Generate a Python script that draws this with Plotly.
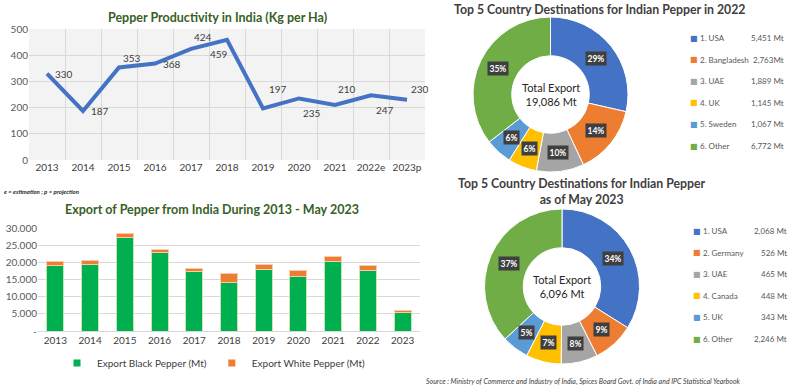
import math
import plotly.graph_objects as go

# ---------------- data ----------------
prod_years = ["2013", "2014", "2015", "2016", "2017", "2018", "2019", "2020", "2021", "2022e", "2023p"]
productivity = [330, 187, 353, 368, 424, 459, 197, 235, 210, 247, 230]

export_years = ["2013", "2014", "2015", "2016", "2017", "2018", "2019", "2020", "2021", "2022", "2023"]
black_pepper = [19100, 19400, 27100, 22800, 17200, 14000, 18000, 16000, 20100, 17500, 5500]
white_pepper = [1000, 1000, 1400, 1000, 1050, 2700, 1500, 1500, 1700, 1600, 500]
export_ticks = [0, 5000, 10000, 15000, 20000, 25000, 30000]
export_ticktext = ["-", "5.000", "10.000", "15.000", "20.000", "25.000", "30.000"]

dest2022_labels = ["1. USA", "2. Bangladesh", "3. UAE", "4. UK", "5. Sweden", "6. Other"]
dest2022_values = [5451, 2763, 1889, 1145, 1067, 6772]
dest2022_valtext = ["5,451 Mt", "2,763Mt", "1,889 Mt", "1,145 Mt", "1,067 Mt", "6,772 Mt"]
dest2022_total = "19,086 Mt"

dest2023_labels = ["1. USA", "2. Germany", "3. UAE", "4. Canada", "5. UK", "6. Other"]
dest2023_values = [2068, 526, 465, 448, 343, 2246]
dest2023_valtext = ["2,068 Mt", "526 Mt", "465 Mt", "448 Mt", "343 Mt", "2,246 Mt"]
dest2023_pct = ["34%", "9%", "8%", "7%", "5%", "37%"]
dest2023_total = "6,096 Mt"

# ---------------- styles ----------------
W, H = 800, 386
FONT = "Lato, 'Open Sans', sans-serif"
GREEN_TITLE = "#375F27"
DARK = "#404040"
GREY = "#595959"
BLACK_COL = "#00B050"
WHITE_COL = "#ED7D31"
pie_colors = ["#4472C4", "#ED7D31", "#A5A5A5", "#FFC000", "#5B9BD5", "#70AD47"]
# label offsets (px) for the productivity line labels
lab_dx = [17, 17, 13, 17, 12, -8, 15, 13, 12, 14, 13]
lab_dy = [0, 0, 10, 0, 12, -14, 19, -15, 16, -15, 11]


def px(x):
    return x / W


def py(y):
    return 1 - y / H


def note(x, y, text, size, color=DARK, xanchor="center", family=FONT, **kw):
    d = dict(x=px(x), y=py(y), xref="paper", yref="paper", text=text, showarrow=False,
             xanchor=xanchor, yanchor="middle", font=dict(size=size, color=color, family=family))
    d.update(kw)
    return d


fig = go.Figure()

# ---- productivity line ----
fig.add_trace(go.Scatter(
    x=prod_years, y=productivity, mode="lines",
    line=dict(color="#4472C4", width=4), xaxis="x", yaxis="y",
    showlegend=False, hoverinfo="x+y"))

annotations = []
for i, (v, dx, dy) in enumerate(zip(productivity, lab_dx, lab_dy)):
    annotations.append(dict(x=i, y=v, xref="x", yref="y", text=str(v), showarrow=False,
                            xanchor="center", yanchor="middle",
                            xshift=dx, yshift=dy, font=dict(size=10, color=DARK, family=FONT)))

# ---- export bars ----
fig.add_trace(go.Bar(
    x=export_years, y=black_pepper, name="Export Black Pepper (Mt)", showlegend=False,
    marker=dict(color=BLACK_COL, line=dict(color="#C9E6B0", width=1)),
    width=0.49, xaxis="x2", yaxis="y2"))
fig.add_trace(go.Bar(
    x=export_years, y=white_pepper, name="Export White Pepper (Mt)", showlegend=False,
    marker=dict(color=WHITE_COL, line=dict(color="#F8CBAD", width=1)),
    width=0.49, xaxis="x2", yaxis="y2"))
# legend entries (small square keys like the original)
for nm, col in [("Export Black Pepper (Mt)", BLACK_COL), ("Export White Pepper (Mt)", WHITE_COL)]:
    fig.add_trace(go.Scatter(x=[None], y=[None], mode="markers", name=nm,
                             marker=dict(symbol="square", size=7, color=col),
                             xaxis="x2", yaxis="y2", hoverinfo="skip"))

# ---- donuts ----
pies = [
    dict(labels=dest2022_labels, values=dest2022_values, cx=550.5, cy=94.5, r=77.5, pct=None,
         total=dest2022_total),
    dict(labels=dest2023_labels, values=dest2023_values, cx=562, cy=286.5, r=77.5, pct=dest2023_pct,
         total=dest2023_total),
]
HOLE = 0.5
for p in pies:
    cx, cy, r = p["cx"], p["cy"], p["r"]
    fig.add_trace(go.Pie(
        labels=p["labels"], values=p["values"], hole=HOLE, sort=False,
        direction="clockwise", rotation=0, textinfo="none",
        marker=dict(colors=pie_colors, line=dict(color="white", width=1)),
        domain=dict(x=[px(cx - r), px(cx + r)], y=[py(cy + r), py(cy - r)]),
        showlegend=False))
    total = sum(p["values"])
    cum = 0
    rm = r * (1 + HOLE) / 2
    for i, v in enumerate(p["values"]):
        theta = 2 * math.pi * (cum + v / 2) / total
        cum += v
        lx = cx + rm * math.sin(theta)
        ly = cy - rm * math.cos(theta)
        txt = p["pct"][i] if p["pct"] else f"{round(100 * v / total)}%"
        annotations.append(note(lx, ly, f"<b>{txt}</b>", 8.5, color="white",
                                bgcolor="#3F3F3F", borderpad=1.5))
    annotations.append(note(cx, cy, "Total Export<br>" + p["total"], 11, color="#262626"))

# custom legends for donuts
legend_specs = [
    (dest2022_labels, dest2022_valtext, 694, 786, 38),
    (dest2023_labels, dest2023_valtext, 697, 789, 231),
]
for labels, vals, sx, vx, y0 in legend_specs:
    for i, (lab, vt) in enumerate(zip(labels, vals)):
        yy = y0 + i * 21.6
        annotations.append(note(sx, yy, "■", 8, color=pie_colors[i], family="DejaVu Sans"))
        annotations.append(note(sx + 4, yy, lab, 8, color=GREY, xanchor="left"))
        annotations.append(note(vx, yy, vt, 8, color=GREY, xanchor="right"))

# titles & notes
annotations += [
    note(217, 18, "<b>Pepper Productivity in India (Kg per Ha)</b>", 12.5, color=GREEN_TITLE),
    note(212, 209, "<b>Export of Pepper from India During 2013 - May 2023</b>", 12.5, color=GREEN_TITLE),
    note(599, 10, "<b>Top 5 Country Destinations for Indian Pepper in 2022</b>", 12.3),
    note(582, 191.5, "<b>Top 5 Country Destinations for Indian Pepper<br>as of May 2023</b>", 12.3),
    note(2, 191, "<b><i>e = estimation ; p = projection</i></b>", 6, color="#262626", xanchor="left"),
    note(424, 381, "<i>Source : Ministry of Commerce and Industry of India, Spices Board Govt. of India "
                   "and IPC Statistical Yearbook</i>", 7, xanchor="left"),
]

fig.update_layout(
    width=W, height=H, margin=dict(l=0, r=0, t=0, b=0, autoexpand=False),
    paper_bgcolor="white", plot_bgcolor="white",
    font=dict(family=FONT, color=GREY, size=10),
    barmode="stack", annotations=annotations,
    shapes=[dict(type="rect", xref="x", yref="y", x0=-0.5, x1=10.5, y0=0, y1=500,
                 fillcolor="#F3F3F3", line=dict(width=0), layer="below")],
    xaxis=dict(domain=[px(29), px(425)], type="category", range=[-0.5, 10.5],
               tickson="boundaries", showgrid=True, gridcolor="#D9D9D9", ticks="", tickangle=0,
               automargin=False, tickfont=dict(size=10, color=DARK), showline=False,
               zeroline=False, fixedrange=True),
    yaxis=dict(domain=[py(160), py(29)], range=[0, 500], dtick=100, showgrid=True, automargin=False,
               gridcolor="#D9D9D9", zeroline=False, tickfont=dict(size=10, color=GREY),
               ticks="", fixedrange=True),
    xaxis2=dict(domain=[px(38), px(420)], type="category", range=[-0.5, 10.5], showgrid=False,
                ticks="", showline=True, linecolor="#D9D9D9", tickangle=0, automargin=False,
                tickfont=dict(size=10, color=DARK), anchor="y2", fixedrange=True),
    yaxis2=dict(domain=[py(331), py(228)], range=[0, 30000], tickvals=export_ticks, automargin=False,
                ticktext=export_ticktext, showgrid=True, gridcolor="#D9D9D9", zeroline=False,
                ticks="", tickfont=dict(size=10, color=GREY), anchor="x2", fixedrange=True),
    legend=dict(orientation="h", x=px(214), xanchor="center", y=py(363), yanchor="middle",
                traceorder="normal", itemwidth=30,
                font=dict(size=10, color=DARK, family=FONT), bgcolor="rgba(0,0,0,0)"),
)

fig.write_html("out.html", config={"displayModeBar": False},
               post_script="document.body.style.margin='0px';")
